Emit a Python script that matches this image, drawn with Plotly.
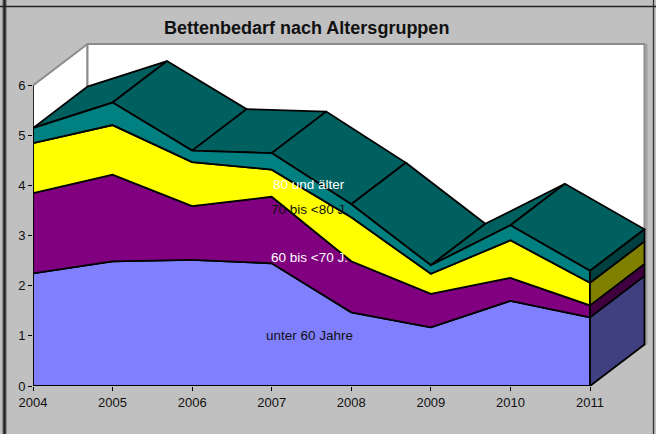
import plotly.graph_objects as go

years = [2004, 2005, 2006, 2007, 2008, 2009, 2010, 2011]
# Cumulative band tops
unter_60 = [2.25, 2.49, 2.52, 2.45, 1.47, 1.17, 1.70, 1.37]
bis_70 = [3.85, 4.22, 3.59, 3.78, 2.49, 1.84, 2.16, 1.61]
bis_80 = [4.85, 5.21, 4.47, 4.32, 3.37, 2.24, 2.91, 2.06]
ab_80 = [5.15, 5.66, 4.70, 4.65, 3.63, 2.41, 3.21, 2.30]
series_names = ["unter 60 Jahre", "60 bis <70 J.", "70 bis <80 J.", "80 und älter"]
label_colors = ["#111111", "#ffffff", "#111111", "#ffffff"]
label_y = [1.0, 2.57, 3.52, 4.02]
label_x = 2007.47
y_ticks = [0, 1, 2, 3, 4, 5, 6]
title = "Bettenbedarf nach Altersgruppen"

front_colors = ["#8080FF", "#800080", "#FFFF00", "#008080"]
side_colors = ["#404080", "#400040", "#808000", "#004040"]
top_color = "#006060"
bg = "#C0C0C0"

W, H = 656, 434
L, R, T, B = 33, 650, 36, 386
px_x = (590.0 - 33) / 7
px_y = (386 - 85.5) / 6
DX = 54.5 / px_x
DY = 41.5 / px_y
x_max = 2004 + (R - L) / px_x
y_max = (B - T) / px_y
FONT = "Liberation Sans, Arial, sans-serif"

fig = go.Figure()


def poly(xs, ys, fill, line="#000000", width=1.8):
    fig.add_trace(go.Scatter(
        x=list(xs) + [xs[0]], y=list(ys) + [ys[0]], mode="lines", fill="toself",
        fillcolor=fill, line=dict(color=line, width=width), hoverinfo="skip",
        showlegend=False, cliponaxis=False))


x0, x1 = years[0], years[-1]
wall = "#8c8c8c"
# Side wall and back wall
poly([x0, x0, x0 + DX, x0 + DX], [0, 6, 6 + DY, DY], "#ffffff", wall, 2)
poly([x0 + DX, x0 + DX, x1 + DX, x1 + DX], [DY, 6 + DY, 6 + DY, DY], "#ffffff", wall, 2)
fig.add_trace(go.Scatter(x=[x1 + DX + 0.025] * 2, y=[DY, 6 + DY], mode="lines",
                         line=dict(color="#a0a0a0", width=2), hoverinfo="skip",
                         showlegend=False, cliponaxis=False))

bands = [[0] * len(years), unter_60, bis_70, bis_80, ab_80]

# Top surface of the stack
for i in range(len(years) - 1):
    a, b = years[i], years[i + 1]
    ya, yb = ab_80[i], ab_80[i + 1]
    poly([a, b, b + DX, a + DX], [ya, yb, yb + DY, ya + DY], top_color)

# Front faces
for k in range(4):
    low, high = bands[k], bands[k + 1]
    poly(years + years[::-1], high + low[::-1], front_colors[k])

# Right-hand faces
for k in range(4):
    l0, h0 = bands[k][-1], bands[k + 1][-1]
    poly([x1, x1, x1 + DX, x1 + DX], [l0, h0, h0 + DY, l0 + DY], side_colors[k])

# Axis lines
fig.add_trace(go.Scatter(x=[x0, x0], y=[y_ticks[0], y_ticks[-1]], mode="lines",
                         line=dict(color="#000000", width=1.4), hoverinfo="skip",
                         showlegend=False, cliponaxis=False))
fig.add_trace(go.Scatter(x=[x0, x1], y=[0, 0], mode="lines",
                         line=dict(color="#000000", width=1.4), hoverinfo="skip",
                         showlegend=False, cliponaxis=False))

annotations = [
    dict(x=label_x, y=yy, text=n, showarrow=False, xref="x", yref="y",
         xanchor="center", yanchor="middle",
         font=dict(family=FONT, size=13.5, color=c))
    for n, c, yy in zip(series_names, label_colors, label_y)
]
annotations.append(dict(
    x=(306.5 - L) / (R - L), y=(B - 28) / (B - T), xref="paper", yref="paper",
    xanchor="center", yanchor="middle",
    text=f"<b>{title}</b>", showarrow=False,
    font=dict(family=FONT, size=18, color="#111111")))


def fx(p):
    return (p - L) / (R - L)


def fy(p):
    return (B - p) / (B - T)


def frame(px0, py0, px1, py1, color, width):
    return dict(type="line", xref="paper", yref="paper", x0=fx(px0), y0=fy(py0),
                x1=fx(px1), y1=fy(py1), line=dict(color=color, width=width))


shapes = [
    frame(4.5, 0, 4.5, H, "#555555", 4),
    frame(4.5, 0, 4.5, H, "#222222", 1.5),
    frame(0, 6.5, W, 6.5, "#222222", 1.5),
    frame(653.5, 0, 653.5, H, "#333333", 1.3),
]

fig.update_layout(
    width=W, height=H,
    margin=dict(l=L, r=W - R, t=T, b=H - B, pad=0),
    paper_bgcolor=bg, plot_bgcolor=bg,
    xaxis=dict(range=[x0, x_max], tickmode="array", tickvals=years,
               ticktext=[str(y) for y in years], ticks="outside", ticklen=4,
               tickcolor="#000000", tickwidth=1, showgrid=False, zeroline=False,
               showline=False, tickfont=dict(family=FONT, size=13, color="#111111")),
    yaxis=dict(range=[0, y_max], tickmode="array", tickvals=y_ticks,
               ticks="outside", ticklen=4, tickcolor="#000000", tickwidth=1,
               showgrid=False, zeroline=False, showline=False,
               tickfont=dict(family=FONT, size=13, color="#111111")),
    annotations=annotations, shapes=shapes, showlegend=False,
)

fig.write_html(
    "out.html",
    config={"displayModeBar": False},
    post_script="document.body.style.margin='0';document.documentElement.style.overflow='hidden';",
)
